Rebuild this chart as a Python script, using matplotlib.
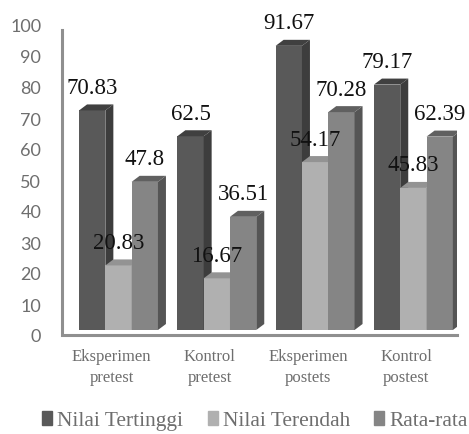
import matplotlib
matplotlib.use('Agg')
import matplotlib.pyplot as plt
import matplotlib.transforms as mtrans
from matplotlib.patches import Polygon, Patch

# Data
categories = ['Eksperimen\npretest', 'Kontrol\npretest', 'Eksperimen\npostets', 'Kontrol\npostest']
tertinggi = [70.83, 62.5, 91.67, 79.17]
terendah = [20.83, 16.67, 54.17, 45.83]
rata = [47.8, 36.51, 70.28, 62.39]
tertinggi_text = ['70.83', '62.5', '91.67', '79.17']
terendah_text = ['20.83', '16.67', '54.17', '45.83']
rata_text = ['47.8', '36.51', '70.28', '62.39']
yticks = list(range(0, 101, 10))

W, H = 469, 434
fig = plt.figure(figsize=(W / 100, H / 100), dpi=100)
# axes box in pixels: x 62..457, y (from top) 330 is value 0
px_per_group = 98.3
px_per_unit = 3.1
left, right = 62, 457
base = 330
top = 18
ax = fig.add_axes([left / W, 1 - base / H, (right - left) / W, (base - top) / H])
ax.patch.set_alpha(0)

width = 26.3 / px_per_group
dx = 8 / px_per_group
dy = 6 / px_per_unit
series = [
    (tertinggi, tertinggi_text, '#595959', '#3d3d3d', '#404040', 'Nilai Tertinggi'),
    (terendah, terendah_text, '#b0b0b0', '#8c8c8c', '#939393', 'Nilai Terendah'),
    (rata, rata_text, '#858585', '#555555', '#606060', 'Rata-rata'),
]

# pseudo 3D bars, left to right so each one covers the side of the previous
labels = []
for g in range(len(categories)):
    for s, (vals, txts, front, side, lid, name) in enumerate(series):
        x0 = g + (s - 1.5) * width
        v = vals[g]
        ax.bar(x0, v, width, align='edge', color=front, zorder=3 + s)
        ax.add_patch(Polygon([(x0 + width, 0), (x0 + width + dx, dy), (x0 + width + dx, v + dy), (x0 + width, v)],
                             color=side, lw=0, zorder=3 + s))
        ax.add_patch(Polygon([(x0, v), (x0 + dx, v + dy), (x0 + width + dx, v + dy), (x0 + width, v)],
                             color=lid, lw=0, zorder=3 + s))
        labels.append((x0 + width / 2, v, txts[g]))

for x, v, t in labels:
    ax.annotate(t, (x, v), xytext=(0, 15.8), textcoords='offset points', ha='center', va='center',
                family='Liberation Serif', fontsize=16.5, color='#111111', zorder=10, clip_on=False)

# axis lines sit slightly below the bar base
for sp in ['top', 'right', 'left', 'bottom']:
    ax.spines[sp].set_visible(False)
shift = mtrans.ScaledTranslation(0, -5 / 100, fig.dpi_scale_trans)
ax.plot([0, 0, 1], [0.979, 0, 0], transform=ax.transAxes + shift, color='#8f8f8f', lw=2.2, clip_on=False, zorder=2,
        solid_joinstyle='miter')

ax.set_yticks(yticks)
ax.tick_params(axis='y', length=0, pad=15, labelsize=13, labelcolor='#6e6e6e')
for lab in ax.get_yticklabels():
    lab.set_family('Lato')
    lab.set_transform(lab.get_transform() + mtrans.ScaledTranslation(0, -6 / 100, fig.dpi_scale_trans))

ax.set_xticks(range(len(categories)))
ax.set_xticklabels(categories, family='Liberation Serif', fontsize=12, color='#6e6e6e', linespacing=1.4)
ax.tick_params(axis='x', length=0, pad=14)
for lab in ax.get_xticklabels():
    lab.set_transform(lab.get_transform() + mtrans.ScaledTranslation(-7 / 100, 0, fig.dpi_scale_trans))

# set_yticks widens the view, so fix the limits afterwards
ax.set_xlim((left - 118.5) / px_per_group, (right - 118.5) / px_per_group)
ax.set_ylim(0, (base - top) / px_per_unit)

handles = [Patch(color=s[2], label=s[5]) for s in series]
fig.legend(handles=handles, loc='center left', bbox_to_anchor=(42 / W, 1 - 421 / H), ncol=3, frameon=False,
           prop={'family': 'Liberation Serif', 'size': 15.4}, labelcolor='#6e6e6e',
           handlelength=0.47, handleheight=0.6, handletextpad=0.23, columnspacing=1.15, borderpad=0, borderaxespad=0)

fig.savefig('out.png', dpi=100)
